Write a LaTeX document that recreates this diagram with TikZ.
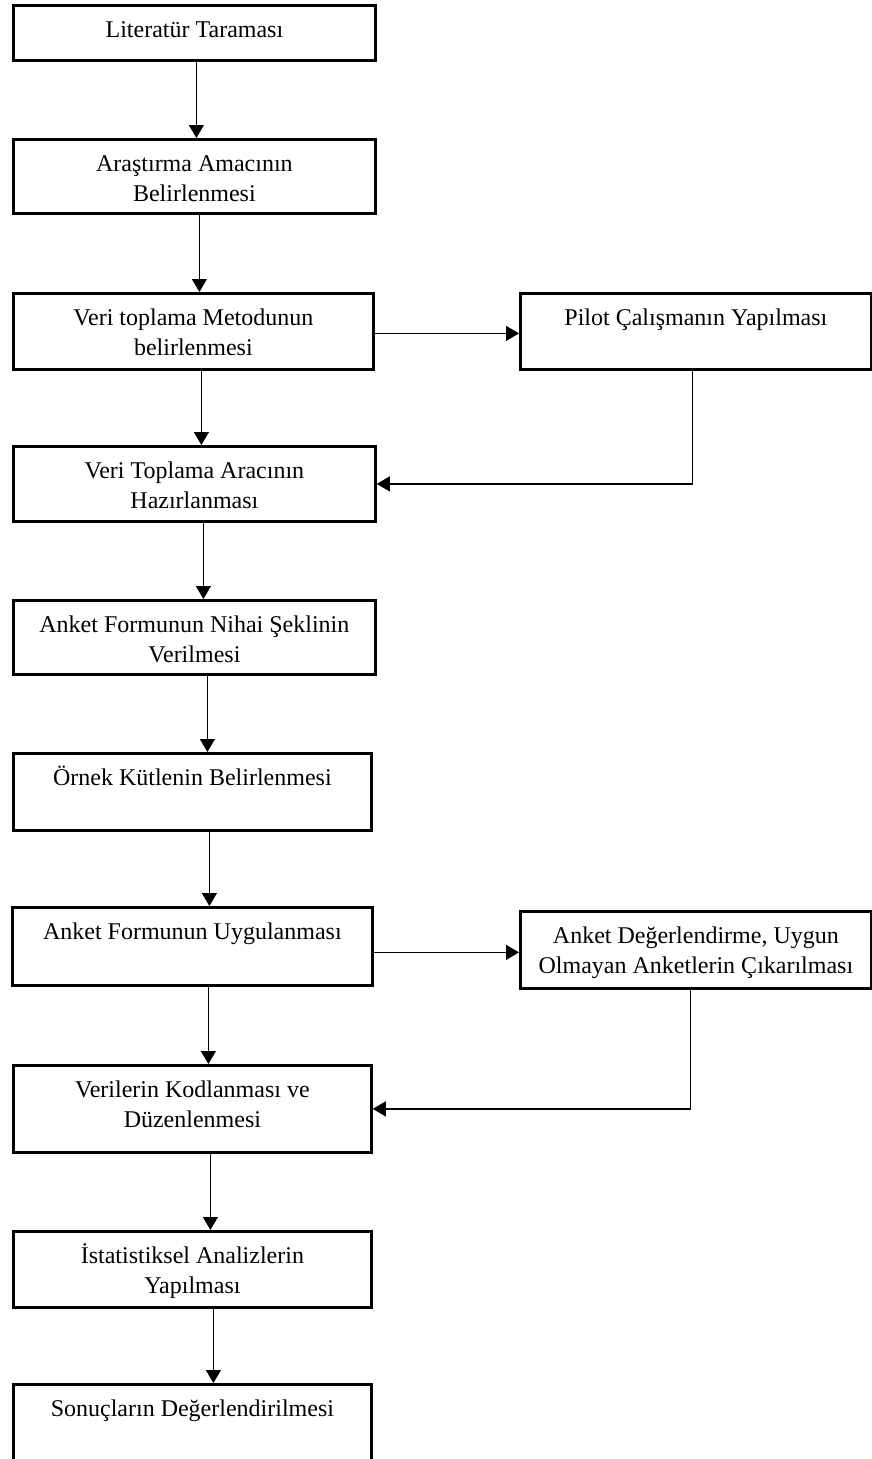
\documentclass[tikz,border=0pt]{standalone}
\usepackage{fontspec}
\setmainfont{Liberation Serif}
\usetikzlibrary{arrows.meta}
\newcommand{\bxt}[3]{\parbox[c][#2pt][t]{#1pt}{\centering\vspace*{11pt}\strut #3\strut}}
\begin{document}
\begin{tikzpicture}[x=1pt,y=-1pt,
  stepbox/.style={draw, line width=2.8pt, inner sep=0pt, anchor=north west,
    font=\fontsize{24}{30}\selectfont},
  arr/.style={line width=1.2pt, -{Triangle[width=15pt,length=13pt]}},
  ln/.style={line width=1.2pt}]
\useasboundingbox (0,0) rectangle (871,1459);
\fill[white] (0,0) rectangle (871,1459);
\node[stepbox] (b1) at (12,4) {\bxt{362}{55}{Literatür Taraması}};
\node[stepbox] (b2) at (12,138) {\bxt{362}{74}{Araştırma Amacının\\Belirlenmesi}};
\node[stepbox] (b3) at (12,292) {\bxt{360}{76}{Veri toplama Metodunun\\belirlenmesi}};
\node[stepbox] (pilot) at (519,292) {\bxt{351}{76}{Pilot Çalışmanın Yapılması}};
\node[stepbox] (b4) at (12,445) {\bxt{362}{75}{Veri Toplama Aracının\\Hazırlanması}};
\node[stepbox] (b5) at (12,599) {\bxt{362}{74}{Anket Formunun Nihai Şeklinin\\Verilmesi}};
\node[stepbox] (b6) at (12,752) {\bxt{358}{77}{Örnek Kütlenin Belirlenmesi}};
\node[stepbox] (b7) at (11,906) {\bxt{360}{78}{Anket Formunun Uygulanması}};
\node[stepbox] (ad) at (519,910) {\bxt{351}{77}{Anket Değerlendirme, Uygun\\Olmayan Anketlerin Çıkarılması}};
\node[stepbox] (b8) at (12,1064) {\bxt{358}{87}{Verilerin Kodlanması ve\\Düzenlenmesi}};
\node[stepbox] (b9) at (12,1230) {\bxt{358}{76}{İstatistiksel Analizlerin\\Yapılması}};
\node[stepbox] (b10) at (12,1383) {\bxt{358}{76}{Sonuçların Değerlendirilmesi}};
% vertical flow
\draw[arr] ([xshift=2pt]b1.south) -- ([xshift=2pt]b1.south |- b2.north);
\draw[arr] ([xshift=5pt]b2.south) -- ([xshift=5pt]b2.south |- b3.north);
\draw[arr] ([xshift=8pt]b3.south) -- ([xshift=8pt]b3.south |- b4.north);
\draw[arr] ([xshift=9pt]b4.south) -- ([xshift=9pt]b4.south |- b5.north);
\draw[arr] ([xshift=13pt]b5.south) -- ([xshift=13pt]b5.south |- b6.north);
\draw[arr] ([xshift=17pt]b6.south) -- ([xshift=17pt]b6.south |- b7.north);
\draw[arr] ([xshift=16pt]b7.south) -- ([xshift=16pt]b7.south |- b8.north);
\draw[arr] ([xshift=18pt]b8.south) -- ([xshift=18pt]b8.south |- b9.north);
\draw[arr] ([xshift=21pt]b9.south) -- ([xshift=21pt]b9.south |- b10.north);
% side branches
\draw[arr] ([yshift=-2pt]b3.east) -- ([yshift=-2pt]b3.east -| pilot.west);
\draw[arr] ([xshift=-3.5pt]pilot.south) |- (b4.east);
\draw[arr] ([yshift=-6pt]b7.east) -- ([yshift=-6pt]b7.east -| ad.west);
\draw[arr] ([xshift=-5.5pt]ad.south) |- (b8.east);
\end{tikzpicture}
\end{document}
